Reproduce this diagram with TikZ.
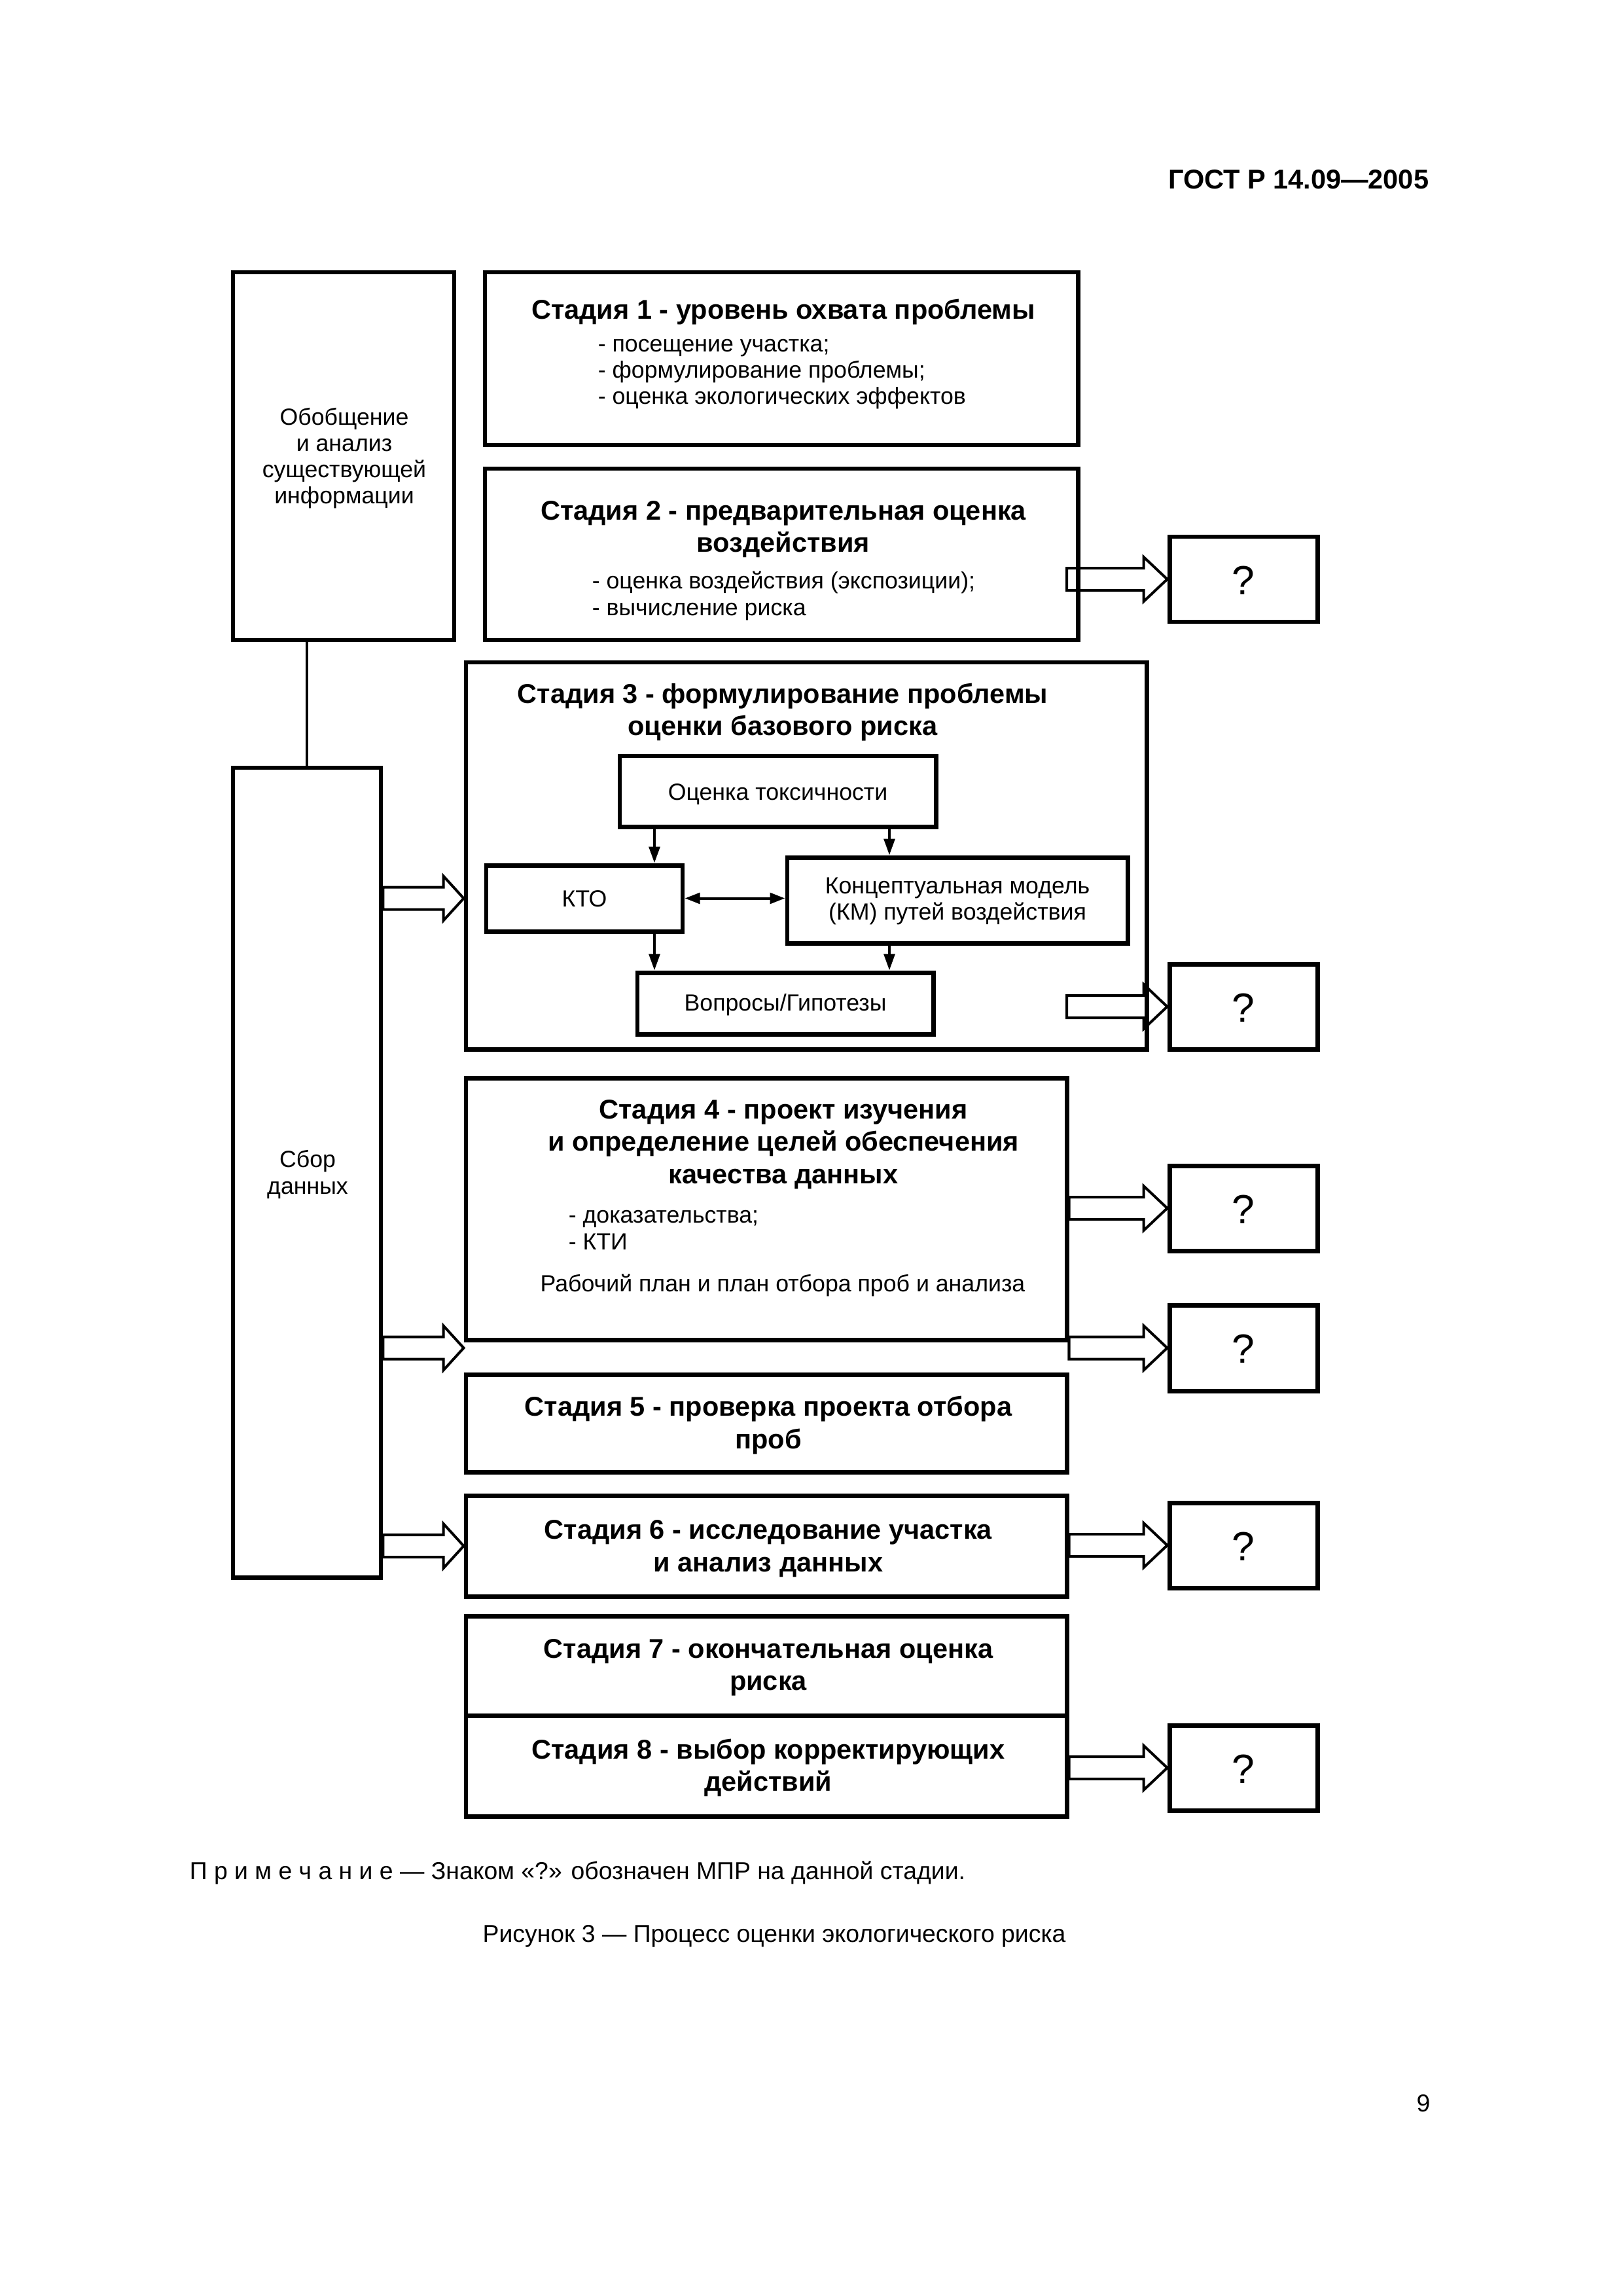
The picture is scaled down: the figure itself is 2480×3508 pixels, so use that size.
\documentclass[tikz,border=0pt]{standalone}
\usepackage{fontspec}
\setmainfont{Liberation Sans}
\usetikzlibrary{arrows.meta,fit,calc}
\newcommand\hollow[3]{\draw[harr] ($(#1)+(0,-17)$) -- ($(#2)+(-#3,-17)$) -- ($(#2)+(-#3,-34)$) -- (#2) -- ($(#2)+(-#3,34)$) -- ($(#2)+(-#3,17)$) -- ($(#1)+(0,17)$) -- cycle;}
\begin{document}
\begin{tikzpicture}[x=0.0846774mm,y=-0.0846774mm,
  frame/.style={draw, line width=0.59mm, inner sep=0pt},
  tt/.style={inner sep=0pt, anchor=base, font=\fontsize{10}{12}\selectfont\bfseries},
  bt/.style={inner sep=0pt, anchor=base, font=\fontsize{8.6}{10}\selectfont},
  btl/.style={bt, anchor=base west},
  nt/.style={inner sep=0pt, anchor=base, font=\fontsize{9}{11}\selectfont},
  qt/.style={inner sep=0pt, anchor=base, font=\fontsize{15}{18}\selectfont},
  harr/.style={draw, line width=0.34mm, line join=miter},
  thinline/.style={line width=0.34mm},
  inarr/.style={line width=0.34mm, -{Triangle[length=2.1mm,width=1.4mm]}},
  dblarr/.style={line width=0.34mm, {Triangle[length=1.95mm,width=1.4mm]}-{Triangle[length=1.95mm,width=1.4mm]}}]
\useasboundingbox (0,0) rectangle (2480,3508);

% header
\node[inner sep=0pt, anchor=base east, font=\fontsize{10}{12}\selectfont\bfseries] (hdr) at (2184,288) {ГОСТ Р 14.09—2005};

% left boxes
\node[frame, fit={(356,416) (694,978)}] (obob) {};
\node[bt] (ob1) at (526,649) {Обобщение};
\node[bt] (ob2) at (526,689) {и анализ};
\node[bt] (ob3) at (526,729) {существующей};
\node[bt] (ob4) at (526,769) {информации};

\node[frame, fit={(356,1173) (582,2410)}] (sbor) {};
\node[bt] (sb1) at (470,1783) {Сбор};
\node[bt] (sb2) at (470,1824) {данных};
\draw[thinline] (obob.south -| sbor.north) -- (sbor.north);

% stage 1
\node[frame, fit={(741,416) (1647,680)}] (s1) {};
\node[tt] (s1t) at (1197,487) {Стадия 1 - уровень охвата проблемы};
\node[btl] (s1a) at (913,537) {- посещение участка;};
\node[btl] (s1b) at (913,577) {- формулирование проблемы;};
\node[btl] (s1c) at (913,617) {- оценка экологических эффектов};

% stage 2
\node[frame, fit={(741,716) (1647,978)}] (s2) {};
\node[tt] (s2t1) at (1197,794) {Стадия 2 - предварительная оценка};
\node[tt] (s2t2) at (1197,843) {воздействия};
\node[btl] (s2a) at (904,899) {- оценка воздействия (экспозиции);};
\node[btl] (s2b) at (904,940) {- вычисление риска};

% stage 3
\node[frame, fit={(712,1012) (1752,1603)}] (s3) {};
\node[tt] (s3t1) at (1196,1074) {Стадия 3 - формулирование проблемы};
\node[tt] (s3t2) at (1196,1123) {оценки базового риска};
\node[frame, fit={(947,1155) (1430,1263)}] (tox) {};
\node[bt] at (tox.center |- 0,1222) {Оценка токсичности};
\node[frame, fit={(743,1322) (1043,1423)}] (kto) {};
\node[bt] at (kto.center |- 0,1385) {КТО};
\node[frame, fit={(1203,1310) (1723,1441)}] (km) {};
\node[bt] at (km.center |- 0,1365) {Концептуальная модель};
\node[bt] at (km.center |- 0,1405) {(КМ) путей воздействия};
\node[frame, fit={(974,1486) (1426,1580)}] (vop) {};
\node[bt] at (vop.center |- 0,1544) {Вопросы/Гипотезы};
\draw[inarr] (tox.south -| 1000,0) -- (kto.north -| 1000,0);
\draw[inarr] (tox.south -| 1359,0) -- (km.north -| 1359,0);
\draw[inarr] (kto.south -| 1000,0) -- (vop.north -| 1000,0);
\draw[inarr] (km.south -| 1359,0) -- (vop.north -| 1359,0);
\draw[dblarr] (kto.east) -- (km.west |- kto.east);

% stage 4
\node[frame, fit={(712,1647) (1630,2047)}] (s4) {};
\node[tt] at (1197,1709) {Стадия 4 - проект изучения};
\node[tt] at (1197,1758) {и определение целей обеспечения};
\node[tt] at (1197,1808) {качества данных};
\node[btl] at (868,1868) {- доказательства;};
\node[btl] at (868,1909) {- КТИ};
\node[bt] at (1196,1973) {Рабочий план и план отбора проб и анализа};

% stage 5
\node[frame, fit={(712,2100) (1630,2249)}] (s5) {};
\node[tt] at (1174,2163) {Стадия 5 - проверка проекта отбора};
\node[tt] at (1174,2213) {проб};

% stage 6
\node[frame, fit={(712,2285) (1630,2439)}] (s6) {};
\node[tt] at (1174,2351) {Стадия 6 - исследование участка};
\node[tt] at (1174,2401) {и анализ данных};

% stage 7, 8
\node[frame, fit={(712,2469) (1630,2621)}] (s7) {};
\node[tt] at (1174,2533) {Стадия 7 - окончательная оценка};
\node[tt] at (1174,2582) {риска};
\node[frame, fit={(712,2621) (1630,2775)}] (s8) {};
\node[tt] at (1174,2687) {Стадия 8 - выбор корректирующих};
\node[tt] at (1174,2736) {действий};

% question boxes
\node[frame, fit={(1787,820) (2013,950)}] (q1) {};
\node[frame, fit={(1787,1473) (2013,1603)}] (q2) {};
\node[frame, fit={(1787,1781) (2013,1911)}] (q3) {};
\node[frame, fit={(1787,1994) (2013,2125)}] (q4) {};
\node[frame, fit={(1787,2296) (2013,2426)}] (q5) {};
\node[frame, fit={(1787,2636) (2013,2766)}] (q6) {};
\foreach \q in {q1,q2,q3,q4,q5,q6} {\node[qt] at ($(\q.center)+(0,23)$) {?};}

% hollow arrows
\coordinate (l1t) at (sbor.east |- kto.west);
\coordinate (l1h) at (s3.west |- kto.west);
\hollow{l1t}{l1h}{31}
\coordinate (l2t) at (sbor.east |- q4.west);
\coordinate (l2h) at (s4.west |- q4.west);
\hollow{l2t}{l2h}{31}
\coordinate (l3t) at (sbor.east |- s6.west);
\hollow{l3t}{s6.west}{31}

\coordinate (r1t) at (1630,0 |- q1.west);
\hollow{r1t}{q1.west}{36}
\coordinate (r2t) at (1630,0 |- q2.west);
\hollow{r2t}{q2.west}{36}
\coordinate (r3t) at (s4.east |- q3.west);
\hollow{r3t}{q3.west}{36}
\coordinate (r4t) at (s4.east |- q4.west);
\hollow{r4t}{q4.west}{36}
\coordinate (r5t) at (s6.east |- q5.west);
\hollow{r5t}{q5.west}{36}
\coordinate (r6t) at (s8.east |- q6.west);
\hollow{r6t}{q6.west}{36}

% notes
\node[nt, anchor=base west] (note) at (289,2871) {П р и м е ч а н и е — Знаком «?» обозначен МПР на данной стадии.};
\node[nt] (cap) at (1183,2967) {Рисунок 3 — Процесс оценки экологического риска};
\node[nt] (pg) at (2175,3226) {9};
\end{tikzpicture}
\end{document}
